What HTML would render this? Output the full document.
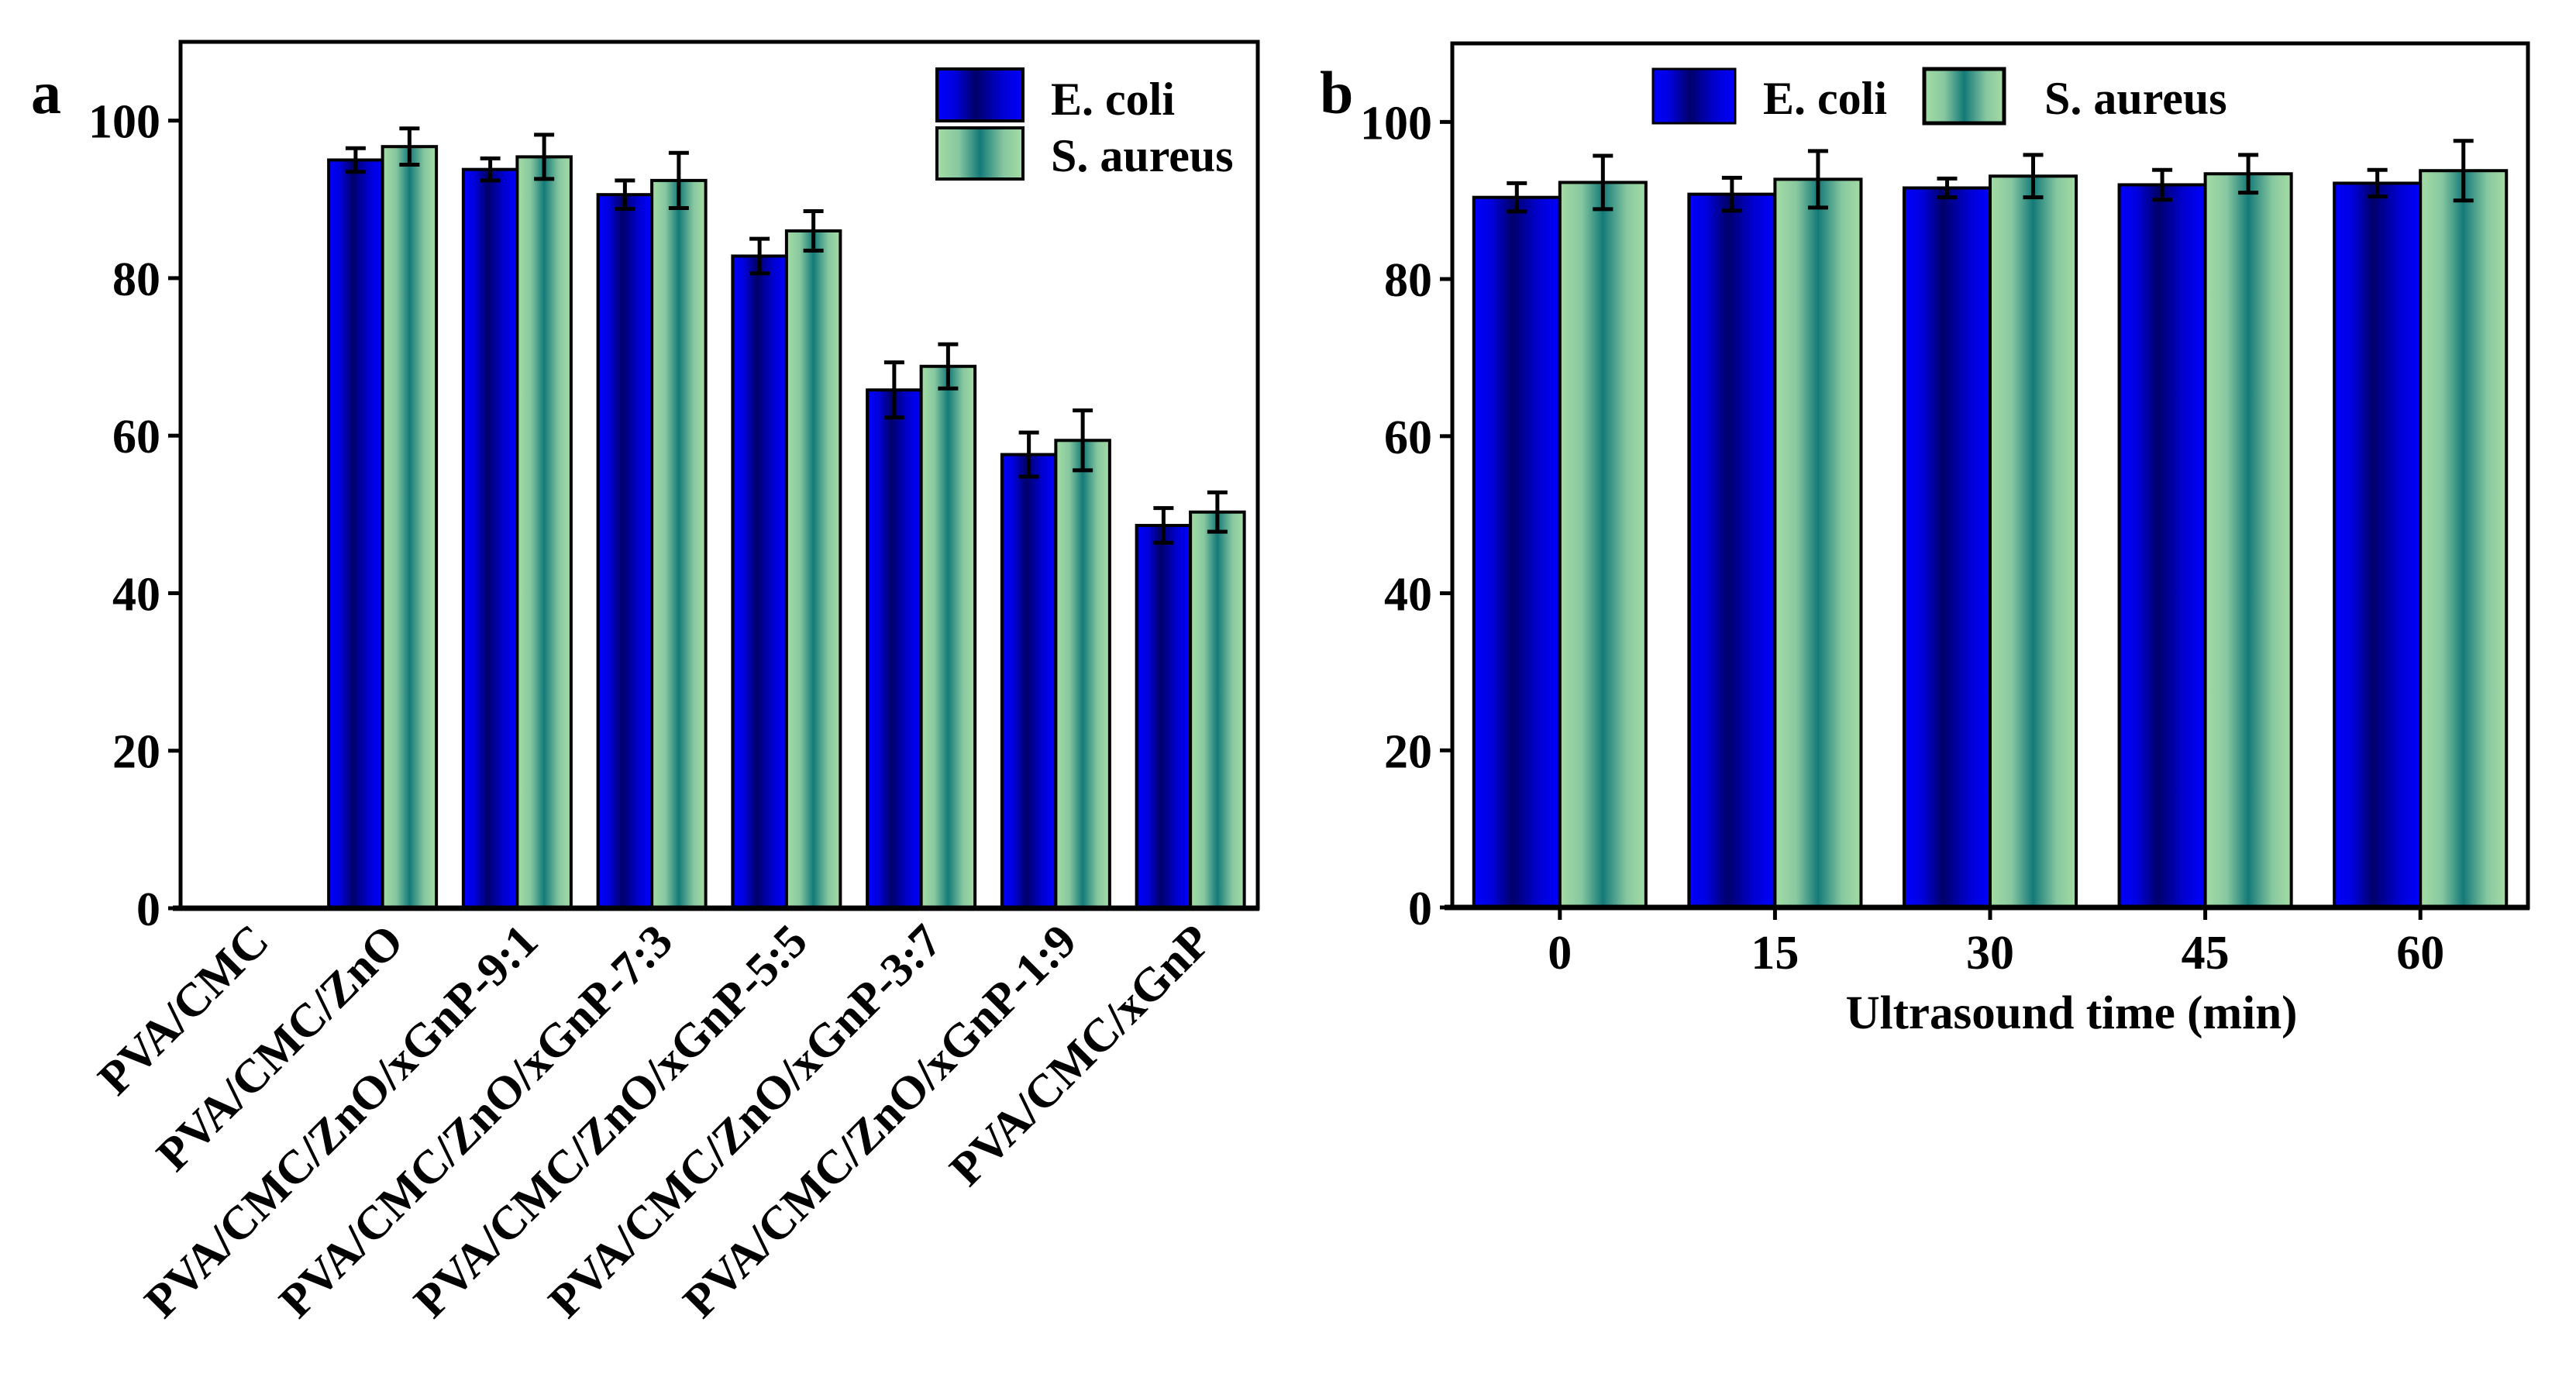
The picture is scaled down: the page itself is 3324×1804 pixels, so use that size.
<!DOCTYPE html>
<html><head><meta charset="utf-8"><style>
html,body{margin:0;padding:0;background:#fff}
svg{display:block}
text{font-family:"Liberation Serif",serif;font-weight:bold;fill:#000}
</style></head><body>
<svg id="chart" width="3324" height="1804" viewBox="0 0 3324 1804" xmlns="http://www.w3.org/2000/svg">
<defs>
<linearGradient id="gBlue" x1="0" x2="1" y1="0" y2="0">
<stop offset="0" stop-color="#0000ff"/><stop offset="0.2" stop-color="#0000e0"/><stop offset="0.45" stop-color="#00006a"/><stop offset="0.75" stop-color="#0000d0"/><stop offset="1" stop-color="#0000ff"/>
</linearGradient>
<linearGradient id="gGreen" x1="0" x2="1" y1="0" y2="0">
<stop offset="0" stop-color="#a4dca4"/><stop offset="0.25" stop-color="#88c8a0"/><stop offset="0.5" stop-color="#137a78"/><stop offset="0.78" stop-color="#88c8a0"/><stop offset="1" stop-color="#a4dca4"/>
</linearGradient>
</defs>
<g id="pa"></g>
<g id="pb"></g>
</svg>
<script>
const catsA = ["PVA/CMC","PVA/CMC/ZnO","PVA/CMC/ZnO/xGnP-9:1","PVA/CMC/ZnO/xGnP-7:3","PVA/CMC/ZnO/xGnP-5:5","PVA/CMC/ZnO/xGnP-3:7","PVA/CMC/ZnO/xGnP-1:9","PVA/CMC/xGnP"];
const ecoliA = [0, 95.0, 93.8, 90.6, 82.8, 65.8, 57.6, 48.6];
const ecoliErrA = [0, 1.5, 1.4, 1.8, 2.2, 3.5, 2.8, 2.2];
const saureusA = [0, 96.7, 95.4, 92.4, 86.0, 68.8, 59.4, 50.3];
const saureusErrA = [0, 2.3, 2.8, 3.5, 2.5, 2.8, 3.8, 2.5];
const catsB = ["0","15","30","45","60"];
const ecoliB = [90.4, 90.8, 91.6, 92.0, 92.2];
const ecoliErrB = [1.8, 2.1, 1.2, 1.9, 1.7];
const saureusB = [92.3, 92.7, 93.1, 93.4, 93.8];
const saureusErrB = [3.4, 3.6, 2.7, 2.4, 3.8];
const yTicks = [0, 20, 40, 60, 80, 100];

const NS = "http://www.w3.org/2000/svg";
function mk(parent, tag, attrs, txt){
  const e = document.createElementNS(NS, tag);
  for (const k in attrs) e.setAttribute(k, attrs[k]);
  if (txt !== undefined) e.textContent = txt;
  parent.appendChild(e);
  return e;
}

function drawPanel(g, cfg){
  const {L, R, T, B, cats, e, eErr, s, sErr} = cfg;
  const ymax = 110;
  const y = v => B - v / ymax * (B - T);
  const band = (R - L) / cats.length;
  const xc = i => L + band * (i + 0.5);
  const bw = band * 0.4;
  cats.forEach((c, i) => {
    [[e, eErr, "gBlue", -1, "ecoli"], [s, sErr, "gGreen", 0, "saureus"]].forEach(([vals, errs, fill, off, nm]) => {
      const v = vals[i];
      if (v <= 0) return;
      const x0 = xc(i) + off * bw;
      const r = mk(g, "rect", {x: x0, y: y(v), width: bw, height: B - y(v), fill: "url(#" + fill + ")", stroke: "#000", "stroke-width": 4});
      
      
      const cx = x0 + bw / 2, er = errs[i];
      const eb = mk(g, "path", {d: `M${cx},${y(v + er)}V${y(v - er)}M${cx - 13},${y(v + er)}H${cx + 13}M${cx - 13},${y(v - er)}H${cx + 13}`, stroke: "#000", "stroke-width": 5, fill: "none"});
      
      
    });
  });
  const fr = mk(g, "rect", {x: L, y: T, width: R - L, height: B - T, fill: "none", stroke: "#000", "stroke-width": 5});
  
  
  const xa = mk(g, "line", {x1: L - 10, x2: R + 2, y1: B, y2: B, stroke: "#000", "stroke-width": 7});
  
  
  yTicks.forEach(t => {
    const tk = mk(g, "line", {x1: L - 16, x2: L, y1: y(t), y2: y(t), stroke: "#000", "stroke-width": 5});
    
    
    const tl = mk(g, "text", {x: L - 26, y: y(t) + 22, "text-anchor": "end", "font-size": 62}, t);
    
    
  });
  cfg.xlabels(g, xc, B);
}

drawPanel(document.getElementById("pa"), {
  L: 233, R: 1623, T: 54, B: 1172, cats: catsA, e: ecoliA, eErr: ecoliErrA, s: saureusA, sErr: saureusErrA,
  xlabels: (g, xc, B) => {
    catsA.forEach((c, i) => {
      const ax = xc(i) + 30, ay = 1218;
      const t = mk(g, "text", {x: ax, y: ay, "text-anchor": "end", "font-size": 61, transform: `rotate(-45 ${ax} ${ay})`}, c);
      
      
    });
  }
});
drawPanel(document.getElementById("pb"), {
  L: 1874, R: 3262, T: 56, B: 1171, cats: catsB, e: ecoliB, eErr: ecoliErrB, s: saureusB, sErr: saureusErrB,
  xlabels: (g, xc, B) => {
    catsB.forEach((c, i) => {
      const tk = mk(g, "line", {x1: xc(i), x2: xc(i), y1: B, y2: B + 16, stroke: "#000", "stroke-width": 5});
      
      
      const t = mk(g, "text", {x: xc(i), y: 1250, "text-anchor": "middle", "font-size": 62}, c);
      
      
    });
  }
});
</script>
<svg style="position:absolute;left:0;top:0" width="3324" height="1804">
<text x="40" y="146" font-size="78">a</text>
<text x="1703" y="146" font-size="78">b</text>
<rect x="1209" y="89" width="111" height="67" fill="url(#gBlue)" stroke="#000" stroke-width="4"/>
<rect x="1209" y="165" width="111" height="66" fill="url(#gGreen)" stroke="#000" stroke-width="4"/>
<text x="1356" y="148" font-size="60">E. coli</text>
<text x="1356" y="221" font-size="60">S. aureus</text>
<rect x="2133" y="89" width="106" height="70" fill="url(#gBlue)" stroke="#000" stroke-width="3"/>
<rect x="2483" y="89" width="103" height="70" fill="url(#gGreen)" stroke="#000" stroke-width="5"/>
<text x="2275" y="147" font-size="60">E. coli</text>
<text x="2638" y="147" font-size="60">S. aureus</text>
<text x="2673" y="1327" font-size="61" text-anchor="middle">Ultrasound time (min)</text>
</svg>
</body></html>
